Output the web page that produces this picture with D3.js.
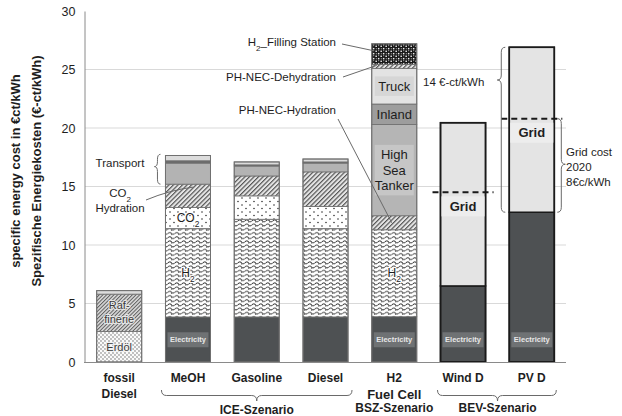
<!DOCTYPE html>
<html>
<head>
<meta charset="utf-8">
<script src="https://cdn.jsdelivr.net/npm/d3@7"></script>
<style>
    body { margin: 0; background: #fff; }
    text { font-family: "Liberation Sans", Arial, sans-serif; }
</style>
</head>
<body>
<svg id="chart" width="622" height="416"></svg>
<script>
const categories = ["fossil Diesel", "MeOH", "Gasoline", "Diesel", "H2", "Wind D", "PV D"]

// cost components in €-ct/kWh, stacked bottom to top
const electricity = [0, 3.85, 3.85, 3.85, 3.87, 6.5, 12.8]
const erdoel = [2.6, 0, 0, 0, 0, 0, 0]
const raffinerie = [3.2, 0, 0, 0, 0, 0, 0]
const hydrogen = [0, 7.55, 8.35, 7.55, 7.43, 0, 0]
const co2 = [0, 1.8, 2.0, 1.9, 0, 0, 0]
const hydration = [0, 2.0, 1.7, 2.95, 1.2, 0, 0]
const transport = [0, 1.8, 0.85, 0.75, 0, 0, 0]
const distribution = [0, 0.2, 0.1, 0.1, 0, 0, 0]
const fueling = [0.3, 0.45, 0.25, 0.25, 0, 0, 0]
const tanker = [0, 0, 0, 0, 7.8, 0, 0]
const inland = [0, 0, 0, 0, 1.75, 0, 0]
const truck = [0, 0, 0, 0, 3.05, 0, 0]
const dehydration = [0, 0, 0, 0, 0.35, 0, 0]
const filling = [0, 0, 0, 0, 1.75, 0, 0]
const grid = [0, 0, 0, 0, 0, 13.95, 14.1]
const gridCost2020 = [null, null, null, null, null, 8, 8]

const yTicks = [0, 5, 10, 15, 20, 25, 30]
const electricityLabelled = ["MeOH", "H2", "Wind D", "PV D"]
const bevBars = ["Wind D", "PV D"]

const keys = ["electricity", "erdoel", "raffinerie", "hydrogen", "co2", "hydration", "transport",
    "distribution", "fueling", "tanker", "inland", "truck", "dehydration", "filling", "grid"]
const columns = {electricity, erdoel, raffinerie, hydrogen, co2, hydration, transport,
    distribution, fueling, tanker, inland, truck, dehydration, filling, grid}

const rows = categories.map((c, i) => {
    let row = {category: c}
    keys.forEach(k => row[k] = columns[k][i])
    return row
})

const fills = {
    electricity: "#4e5153",
    erdoel: "url(#dots)",
    raffinerie: "url(#hatchFine)",
    hydrogen: "url(#waves)",
    co2: "url(#dotsSparse)",
    hydration: "url(#hatch)",
    transport: "#b3b3b3",
    distribution: "#6c6c6c",
    fueling: "#dcdcdc",
    tanker: "#b5b5b5",
    inland: "#9d9d9d",
    truck: "#e3e3e3",
    dehydration: "url(#hatch)",
    filling: "url(#checker)",
    grid: "#e4e4e4"
}

const FONT_DARK = "#1e1e1e"

const svg = d3.select("#chart")
const x = d3.scaleBand().domain(categories).range([85, 566]).paddingInner(0.345).paddingOuter(0.17)
const y = d3.scaleLinear().domain([0, 30]).range([362, 11])
const bw = x.bandwidth()

// patterns
const defs = svg.append("defs")

let p = defs.append("pattern").attr("id", "dots").attr("patternUnits", "userSpaceOnUse")
    .attr("width", 4).attr("height", 4)
p.append("rect").attr("width", 4).attr("height", 4).attr("fill", "#fafafa")
p.append("circle").attr("cx", 1).attr("cy", 1).attr("r", 0.65).attr("fill", "#555")
p.append("circle").attr("cx", 3).attr("cy", 3).attr("r", 0.65).attr("fill", "#555")

p = defs.append("pattern").attr("id", "dotsSparse").attr("patternUnits", "userSpaceOnUse")
    .attr("width", 8).attr("height", 7)
p.append("rect").attr("width", 8).attr("height", 7).attr("fill", "#fff")
p.append("circle").attr("cx", 2).attr("cy", 2).attr("r", 0.8).attr("fill", "#333")
p.append("circle").attr("cx", 6).attr("cy", 5.5).attr("r", 0.8).attr("fill", "#333")

p = defs.append("pattern").attr("id", "waves").attr("patternUnits", "userSpaceOnUse")
    .attr("width", 7).attr("height", 4.2)
p.append("rect").attr("width", 7).attr("height", 4.2).attr("fill", "#fff")
p.append("path").attr("d", "M0.2,2.4 Q1.8,0.4 3.4,2.4 T6.6,2.4")
    .attr("fill", "none").attr("stroke", "#333").attr("stroke-width", 0.9)
p.append("circle").attr("cx", 3.4).attr("cy", 3.9).attr("r", 0.45).attr("fill", "#444")

p = defs.append("pattern").attr("id", "hatch").attr("patternUnits", "userSpaceOnUse")
    .attr("width", 3.2).attr("height", 3.2).attr("patternTransform", "rotate(45)")
p.append("rect").attr("width", 3.2).attr("height", 3.2).attr("fill", "#e6e6e6")
p.append("line").attr("x1", 0.6).attr("x2", 0.6).attr("y1", 0).attr("y2", 3.2)
    .attr("stroke", "#4a4a4a").attr("stroke-width", 1.1)

p = defs.append("pattern").attr("id", "hatchFine").attr("patternUnits", "userSpaceOnUse")
    .attr("width", 2.6).attr("height", 2.6).attr("patternTransform", "rotate(45)")
p.append("rect").attr("width", 2.6).attr("height", 2.6).attr("fill", "#d8d8d8")
p.append("line").attr("x1", 0.5).attr("x2", 0.5).attr("y1", 0).attr("y2", 2.6)
    .attr("stroke", "#555").attr("stroke-width", 0.9)

p = defs.append("pattern").attr("id", "checker").attr("patternUnits", "userSpaceOnUse")
    .attr("width", 5).attr("height", 5)
p.append("rect").attr("width", 5).attr("height", 5).attr("fill", "#151515")
p.append("rect").attr("x", 0.4).attr("y", 0.6).attr("width", 1.6).attr("height", 1.3).attr("fill", "#eee")
p.append("rect").attr("x", 2.9).attr("y", 2.9).attr("width", 1.5).attr("height", 1.5).attr("fill", "#eee")
p.append("rect").attr("x", 3.2).attr("y", 0.2).attr("width", 1).attr("height", 1).attr("fill", "#bbb")
p.append("rect").attr("x", 0.8).attr("y", 3.3).attr("width", 1).attr("height", 1).attr("fill", "#bbb")

// gridlines
svg.append("g")
    .selectAll("line")
    .data(yTicks.filter(t => t > 0 && t < 30))
    .join("line")
    .attr("x1", 85).attr("x2", 566)
    .attr("y1", d => y(d)).attr("y2", d => y(d))
    .style("stroke", "#d9d9d9")
    .style("stroke-width", 1)

// stacked bars
const stacked = d3.stack().keys(keys)(rows)

svg.append("g")
    .selectAll("g")
    .data(stacked)
    .join("g")
    .attr("fill", s => fills[s.key])
    .selectAll("rect")
    .data(s => s.filter(d => d[1] - d[0] > 0))
    .join("rect")
    .attr("x", d => x(d.data.category))
    .attr("y", d => y(d[1]))
    .attr("width", bw)
    .attr("height", d => y(d[0]) - y(d[1]))
    .style("stroke", d => bevBars.includes(d.data.category) ? "#1a1a1a" : "#6e6e6e")
    .style("stroke-width", d => bevBars.includes(d.data.category) ? 1.5 : 0.8)

// total outline
svg.append("g")
    .selectAll("rect")
    .data(rows)
    .join("rect")
    .attr("x", d => x(d.category))
    .attr("y", d => y(d3.sum(keys, k => d[k])))
    .attr("width", bw)
    .attr("height", d => y(0) - y(d3.sum(keys, k => d[k])))
    .style("fill", "none")
    .style("stroke", d => bevBars.includes(d.category) ? "#1a1a1a" : "#707070")
    .style("stroke-width", d => bevBars.includes(d.category) ? 1.6 : 1)

// axes
svg.append("g")
    .attr("transform", "translate(84.5, 0)")
    .call(d3.axisLeft(y).tickValues(yTicks).tickSize(0).tickPadding(9))
    .call(g => g.select(".domain").style("stroke", "#8a8a8a"))
    .call(g => g.selectAll(".tick text")
        .style("font-size", "12.5px")
        .style("fill", FONT_DARK)
        .style("font-family", "Liberation Sans, Arial, sans-serif"))

svg.append("line")
    .attr("x1", 84).attr("x2", 566)
    .attr("y1", y(0) + 0.5).attr("y2", y(0) + 0.5)
    .style("stroke", "#8a8a8a")

// y titles
const yTitles = ["specific energy cost in €ct/kWh", "Spezifische Energiekosten (€-ct/kWh)"]
svg.append("g")
    .selectAll("text")
    .data(yTitles)
    .join("text")
    .attr("transform", (d, i) => `translate(${20 + i * 21}, 171) rotate(-90)`)
    .attr("text-anchor", "middle")
    .text(d => d)
    .style("font-size", "13px")
    .style("font-weight", "bold")
    .style("fill", FONT_DARK)

// electricity labels
const elecLabels = svg.append("g")
    .selectAll("g")
    .data(rows.filter(d => electricityLabelled.includes(d.category)))
    .join("g")
    .attr("transform", d => `translate(${x(d.category) + bw / 2}, ${y(1.9)})`)

elecLabels.append("rect")
    .attr("x", -20.5).attr("y", -7.5)
    .attr("width", 41).attr("height", 15)
    .style("fill", "#6f7274")

elecLabels.append("text")
    .attr("text-anchor", "middle")
    .attr("dy", "0.35em")
    .text("Electricity")
    .style("font-size", "7.5px")
    .style("font-weight", "bold")
    .style("fill", "#e8e8e8")

// helper to place text inside segments
function centerOf(cat, key) {
    const s = stacked.find(s => s.key === key)
    const d = s[categories.indexOf(cat)]
    return (d[0] + d[1]) / 2
}

function subLabel(g, cx, cy, base, sub, rest, size, anchor) {
    const t = g.append("text")
        .attr("x", cx).attr("y", cy)
        .attr("dy", "0.35em")
        .attr("text-anchor", anchor || "middle")
        .style("font-size", size + "px")
        .style("fill", FONT_DARK)
    t.append("tspan").text(base)
    t.append("tspan").text(sub).attr("baseline-shift", "sub").style("font-size", (size * 0.7) + "px")
    if (rest) t.append("tspan").text(rest)
    return t
}

const inBar = svg.append("g")

// fossil labels
inBar.append("text")
    .attr("x", x("fossil Diesel") + bw / 2)
    .attr("y", y(centerOf("fossil Diesel", "raffinerie")))
    .attr("text-anchor", "middle")
    .style("font-size", "11px")
    .style("fill", "#3a3a3a")
    .style("paint-order", "stroke")
    .style("stroke", "#e6e6e6")
    .style("stroke-width", 2)
    .selectAll("tspan")
    .data(["Raf-", "finerie"])
    .join("tspan")
    .attr("x", x("fossil Diesel") + bw / 2)
    .attr("dy", (d, i) => i === 0 ? "-0.35em" : "1.3em")
    .text(d => d)

inBar.append("text")
    .attr("x", x("fossil Diesel") + bw / 2)
    .attr("y", y(centerOf("fossil Diesel", "erdoel")))
    .attr("dy", "0.35em")
    .attr("text-anchor", "middle")
    .style("font-size", "11px")
    .style("fill", "#3a3a3a")
    .style("paint-order", "stroke")
    .style("stroke", "#f2f2f2")
    .style("stroke-width", 2)
    .text("Erdöl")

subLabel(inBar, x("MeOH") + bw / 2, y(centerOf("MeOH", "co2")), "CO", "2", null, 12)
    .style("paint-order", "stroke").style("stroke", "#fff").style("stroke-width", 2)
subLabel(inBar, x("MeOH") + bw / 2, y(centerOf("MeOH", "hydrogen")), "H", "2", null, 12)
    .style("paint-order", "stroke").style("stroke", "#fff").style("stroke-width", 2)
subLabel(inBar, x("H2") + bw / 2, y(centerOf("H2", "hydrogen")), "H", "2", null, 12)
    .style("paint-order", "stroke").style("stroke", "#fff").style("stroke-width", 2)

// H2 transport labels with boxes
const boxed = [
    {key: "truck", lines: ["Truck"], box: "#d6d6d6"},
    {key: "inland", lines: ["Inland"], box: null},
    {key: "tanker", lines: ["High", "Sea", "Tanker"], box: "#c6c6c6"}
]
boxed.forEach(b => {
    const cy = y(centerOf("H2", b.key))
    const h = b.lines.length * 15.5 + 4
    if (b.box) {
        inBar.append("rect")
            .attr("x", x("H2") + 3).attr("y", cy - h / 2)
            .attr("width", bw - 6).attr("height", h)
            .style("fill", b.box)
    }
    inBar.append("text")
        .attr("text-anchor", "middle")
        .style("font-size", "13px")
        .style("fill", FONT_DARK)
        .selectAll("tspan")
        .data(b.lines)
        .join("tspan")
        .attr("x", x("H2") + bw / 2)
        .attr("y", (d, i) => cy + (i - (b.lines.length - 1) / 2) * 15.5)
        .attr("dy", "0.35em")
        .text(d => d)
})

// grid cost 2020 dashed lines and Grid labels
rows.forEach((d, i) => {
    if (gridCost2020[i] === null) return
    const level = electricity[i] + gridCost2020[i]
    svg.append("line")
        .attr("x1", x(d.category) - 8).attr("x2", x(d.category) + bw + 8)
        .attr("y1", y(level)).attr("y2", y(level))
        .style("stroke", "#1a1a1a")
        .style("stroke-width", 2)
        .style("stroke-dasharray", "6,4")
    svg.append("rect")
        .attr("x", x(d.category) + 1).attr("y", y(level - 1.2) - 10)
        .attr("width", bw - 2).attr("height", 20)
        .style("fill", "#ededed")
    svg.append("text")
        .attr("x", x(d.category) + bw / 2)
        .attr("y", y(level - 1.2))
        .attr("dy", "0.35em")
        .attr("text-anchor", "middle")
        .text("Grid")
        .style("font-size", "13px")
        .style("font-weight", "bold")
        .style("fill", FONT_DARK)
})

// braces
function vBrace(x0, y1, y2, yTip, w) {
    const xs = x0 + w / 2, xt = x0 + w, r = 5
    return `M${x0},${y1} Q${xs},${y1} ${xs},${y1 + r} L${xs},${yTip - r} Q${xs},${yTip} ${xt},${yTip}` +
        ` Q${xs},${yTip} ${xs},${yTip + r} L${xs},${y2 - r} Q${xs},${y2} ${x0},${y2}`
}

function hBrace(y0, x1, x2, xTip, h) {
    const ys = y0 + h / 2, yt = y0 + h, r = 5
    return `M${x1},${y0} Q${x1},${ys} ${x1 + r},${ys} L${xTip - r},${ys} Q${xTip},${ys} ${xTip},${yt}` +
        ` Q${xTip},${ys} ${xTip + r},${ys} L${x2 - r},${ys} Q${x2},${ys} ${x2},${y0}`
}

const notes = svg.append("g")
    .style("fill", "none")
    .style("stroke", "#6a6a6a")
    .style("stroke-width", 1)

// Transport brace on MeOH
notes.append("path").attr("d", vBrace(x("MeOH") - 5, y(17.75), y(15.2), y(16.7), -6))
// 14 ct brace on PV D
const pvTop = electricity[6] + grid[6]
notes.append("path").attr("d", vBrace(x("PV D") - 4, y(pvTop), y(electricity[6]), y(24.1), -8))
// grid cost brace
notes.append("path").attr("d", vBrace(x("PV D") + bw + 3, y(electricity[6] + gridCost2020[6]), y(electricity[6]), y(16.9), 8))
// scenario braces
notes.append("path").attr("d", hBrace(390, x("MeOH") - 4, x("Diesel") + bw + 4, x("Gasoline") + bw / 2, 11))
notes.append("path").attr("d", hBrace(390, x("Wind D") - 3, x("PV D") + bw + 2, x("Wind D") + bw + 12, 11))

// leader lines
notes.append("line").attr("x1", 342).attr("y1", 44).attr("x2", x("H2") + 2).attr("y2", y(26.6))
notes.append("line").attr("x1", 343).attr("y1", 77).attr("x2", x("H2") + 5).attr("y2", y(25.35))
notes.append("line").attr("x1", 338).attr("y1", 119).attr("x2", x("H2") + 20).attr("y2", y(11.9))
notes.append("path").attr("d", `M146,200 Q170,190 ${x("MeOH") + 28},${y(14.95)}`)

// annotation texts
const ann = svg.append("g")
    .style("font-size", "11.5px")
    .style("fill", FONT_DARK)

subLabel(ann, 336, 42, "H", "2", "_Filling Station", 11.5, "end")
ann.append("text").attr("x", 336).attr("y", 77).attr("dy", "0.35em").attr("text-anchor", "end").text("PH-NEC-Dehydration")
ann.append("text").attr("x", 336).attr("y", 110).attr("dy", "0.35em").attr("text-anchor", "end").text("PH-NEC-Hydration")
ann.append("text").attr("x", 120).attr("y", 163).attr("dy", "0.35em").attr("text-anchor", "middle").text("Transport")
subLabel(ann, 120, 193, "CO", "2", null, 11.5)
ann.append("text").attr("x", 120).attr("y", 208).attr("dy", "0.35em").attr("text-anchor", "middle").text("Hydration")
ann.append("text").attr("x", 423).attr("y", 82).attr("dy", "0.35em").text("14 €-ct/kWh")
ann.append("text").attr("x", 566)
    .selectAll("tspan")
    .data(["Grid cost", "2020", "8€c/kWh"])
    .join("tspan")
    .attr("x", 566)
    .attr("y", (d, i) => 152 + i * 15)
    .attr("dy", "0.35em")
    .text(d => d)

// category labels
const xLabels = [
    {cat: "fossil Diesel", lines: ["fossil", "Diesel"]},
    {cat: "MeOH", lines: ["MeOH"]},
    {cat: "Gasoline", lines: ["Gasoline"]},
    {cat: "Diesel", lines: ["Diesel"]},
    {cat: "H2", lines: ["H2"]},
    {cat: "Wind D", lines: ["Wind D"]},
    {cat: "PV D", lines: ["PV D"]}
]
xLabels.forEach(l => {
    svg.append("text")
        .attr("text-anchor", "middle")
        .style("font-size", "12px")
        .style("font-weight", "bold")
        .style("fill", FONT_DARK)
        .selectAll("tspan")
        .data(l.lines)
        .join("tspan")
        .attr("x", x(l.cat) + bw / 2)
        .attr("y", (d, i) => 378 + i * 16)
        .attr("dy", "0.35em")
        .text(d => d)
})

svg.append("text")
    .attr("x", x("H2") + bw / 2).attr("y", 394).attr("dy", "0.35em")
    .attr("text-anchor", "middle")
    .text("Fuel Cell")
    .style("font-size", "13px").style("font-weight", "bold").style("fill", FONT_DARK)

const scenarios = [
    {text: "ICE-Szenario", cx: x("Gasoline") + bw / 2, y: 410},
    {text: "BSZ-Szenario", cx: x("H2") + bw / 2, y: 408},
    {text: "BEV-Szenario", cx: x("Wind D") + bw + 12, y: 408}
]
svg.append("g")
    .selectAll("text")
    .data(scenarios)
    .join("text")
    .attr("x", d => d.cx).attr("y", d => d.y).attr("dy", "0.35em")
    .attr("text-anchor", "middle")
    .text(d => d.text)
    .style("font-size", "12px").style("font-weight", "bold").style("fill", FONT_DARK)
</script>
</body>
</html>
